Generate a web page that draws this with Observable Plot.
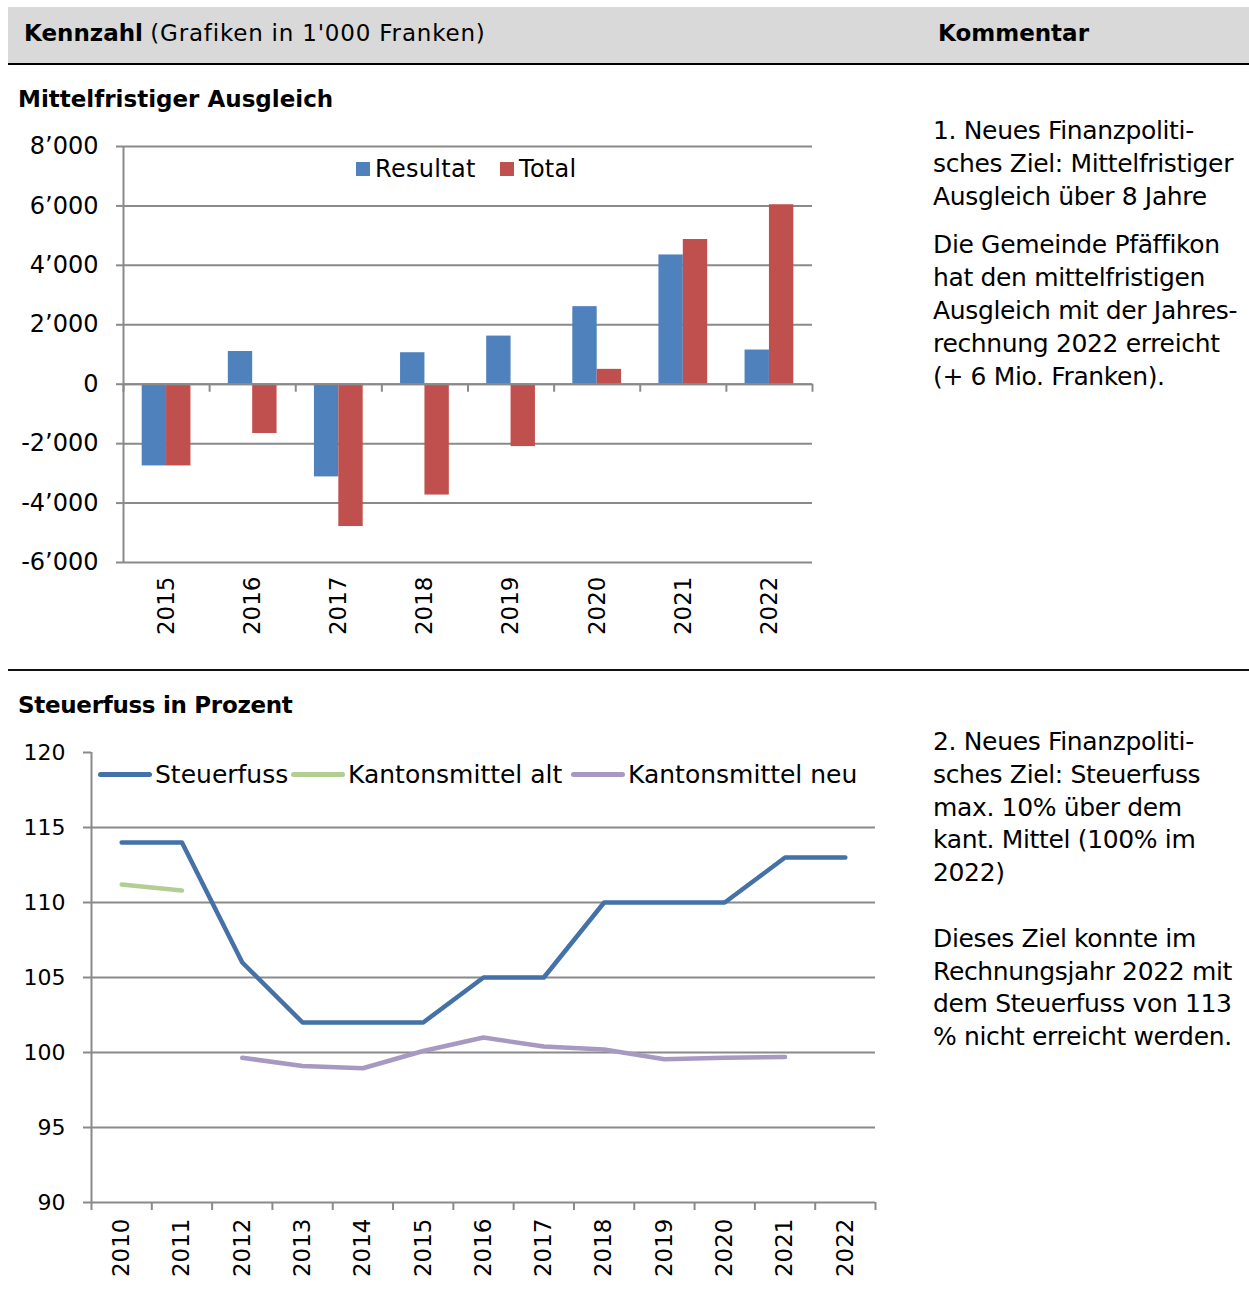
<!DOCTYPE html>
<html>
<head>
<meta charset="utf-8">
<script src="https://cdn.jsdelivr.net/npm/d3@7"></script>
<script src="https://cdn.jsdelivr.net/npm/@observablehq/plot@0.6"></script>
<style>
  html, body { margin: 0; padding: 0; background: #fff; }
  body { width: 1249px; height: 1304px; overflow: hidden; position: relative; font-family: "DejaVu Sans", sans-serif; color: #000; }
  .abs { position: absolute; white-space: nowrap; }
  .header { left: 8px; top: 7px; width: 1241px; height: 56px; background: #D9D9D9; border-bottom: 2px solid #000; }
  .htext { font-size: 23px; line-height: 52px; top: 7px; }
  .sep { left: 8px; width: 1241px; height: 0; border-top: 2px solid #111; }
  .title { font-size: 23px; font-weight: bold; line-height: 30px; left: 18px; }
  .comment { left: 933px; font-size: 25px; letter-spacing: -0.35px; }
  .comment p { margin: 0; }
  .leg { font-size: 24px; line-height: 30px; }
  .sq { width: 14px; height: 14px; }
  .sw { height: 5px; border-radius: 3px; }
  .leg2 { font-size: 25px; line-height: 30px; }
</style>
</head>
<body>
<script>
// ---------- Data ----------
const years1 = [2015, 2016, 2017, 2018, 2019, 2020, 2021, 2022];
const resultat = [-2750, 1100, -3120, 1060, 1620, 2610, 4350, 1150];
const total = [-2750, -1660, -4790, -3730, -2100, 500, 4870, 6040];
const yTicks1 = [-6000, -4000, -2000, 0, 2000, 4000, 6000, 8000];
const series1 = ["Resultat", "Total"];
const colors1 = ["#4F81BD", "#C0504D"];

const years2 = [2010, 2011, 2012, 2013, 2014, 2015, 2016, 2017, 2018, 2019, 2020, 2021, 2022];
const steuerfuss = [114, 114, 106, 102, 102, 102, 105, 105, 110, 110, 110, 113, 113];
const kantonAltYears = [2010, 2011];
const kantonAlt = [111.2, 110.8];
const kantonNeuYears = [2012, 2013, 2014, 2015, 2016, 2017, 2018, 2019, 2020, 2021];
const kantonNeu = [99.65, 99.1, 98.95, 100.1, 101.0, 100.4, 100.2, 99.55, 99.65, 99.7];
const yTicks2 = [90, 95, 100, 105, 110, 115, 120];
const series2 = ["Steuerfuss", "Kantonsmittel alt", "Kantonsmittel neu"];
const colors2 = ["#4371A8", "#B3CE93", "#A799C2"];

const gridColor = "#8A8A8A";
const fmt1 = d => d3.format(",")(d).replace(/,/g, "’").replace("−", "-");

// ---------- Page text ----------
function el(cls, style, html) {
  const d = document.createElement("div");
  d.className = "abs " + cls;
  Object.assign(d.style, style);
  d.innerHTML = html;
  document.body.appendChild(d);
  return d;
}
el("header", {}, "");
el("htext", {left: "24px"}, "<b>Kennzahl</b> <span style='letter-spacing:0.8px'>(Grafiken in 1'000 Franken)</span>");
el("htext", {left: "938px"}, "<b>Kommentar</b>");
el("title", {top: "84px"}, "Mittelfristiger Ausgleich");
el("sep", {top: "669px"}, "");
el("title", {top: "690px", letterSpacing: "-0.3px"}, "Steuerfuss in Prozent");

el("comment", {top: "114px", lineHeight: "33px"},
  "<p>1. Neues Finanzpoliti-<br>sches Ziel: Mittelfristiger<br>Ausgleich über 8 Jahre</p>" +
  "<p style='margin-top:15px'>Die Gemeinde Pfäffikon<br>hat den mittelfristigen<br>Ausgleich mit der Jahres-<br>rechnung 2022 erreicht<br>(+ 6 Mio. Franken).</p>");
el("comment", {top: "726px", lineHeight: "32.8px"},
  "<p>2. Neues Finanzpoliti-<br>sches Ziel: Steuerfuss<br>max. 10% über dem<br>kant. Mittel (100% im<br>2022)</p>" +
  "<p style='margin-top:32.8px'>Dieses Ziel konnte im<br>Rechnungsjahr 2022 mit<br>dem Steuerfuss von 113<br>% nicht erreicht werden.</p>");

// ---------- Chart 1: grouped bars ----------
const rows1 = [];
years1.forEach((y, i) => {
  rows1.push({year: y, series: "Resultat", value: resultat[i]});
  rows1.push({year: y, series: "Total", value: total[i]});
});
const xDom1 = [years1[0] - 0.5, years1[years1.length - 1] + 0.5];
const bounds1 = d3.range(xDom1[0], xDom1[1] + 0.01, 1);
const barW = 0.283; // fraction of a category occupied by one bar
const chart1 = Plot.plot({
  width: 830, height: 530,
  marginLeft: 123, marginRight: 18, marginTop: 26, marginBottom: 88,
  style: {fontFamily: "DejaVu Sans", fontSize: "24px", color: "#000", background: "transparent", overflow: "visible"},
  x: {type: "linear", domain: xDom1},
  y: {domain: [yTicks1[0], yTicks1[yTicks1.length - 1]]},
  color: {domain: series1, range: colors1},
  marks: [
    Plot.ruleY(yTicks1, {stroke: gridColor, strokeWidth: 2}),
    Plot.rect(rows1, {
      x1: d => d.series === "Resultat" ? d.year - barW : d.year,
      x2: d => d.series === "Resultat" ? d.year : d.year + barW,
      y1: 0, y2: "value", fill: "series"
    }),
    Plot.ruleY([0], {stroke: gridColor, strokeWidth: 2}),
    Plot.ruleX(bounds1, {y1: 0, y2: -270, stroke: gridColor, strokeWidth: 2}),
    Plot.ruleX([xDom1[0]], {stroke: gridColor, strokeWidth: 2}),
    Plot.axisY(yTicks1, {tickSize: 7, tickPadding: 18, tickFormat: fmt1, stroke: gridColor, strokeWidth: 2, label: null, fontSize: 24}),
    Plot.axisX(years1, {tickSize: 0, tickPadding: 14, tickRotate: -90, tickFormat: d => String(d), label: null, fontSize: 23})
  ]
});
chart1.style.position = "absolute";
chart1.style.left = "0px";
chart1.style.top = "120px";
document.body.appendChild(chart1);

// legend chart 1
el("sq", {left: "356px", top: "162px", background: colors1[0]}, "");
el("leg", {left: "375px", top: "154px", letterSpacing: "0.3px"}, series1[0]);
el("sq", {left: "500px", top: "162px", background: colors1[1]}, "");
el("leg", {left: "519px", top: "154px", letterSpacing: "0.3px"}, series1[1]);

// ---------- Chart 2: lines ----------
const rows2 = [];
years2.forEach((y, i) => rows2.push({year: y, series: series2[0], value: steuerfuss[i]}));
kantonAltYears.forEach((y, i) => rows2.push({year: y, series: series2[1], value: kantonAlt[i]}));
kantonNeuYears.forEach((y, i) => rows2.push({year: y, series: series2[2], value: kantonNeu[i]}));
const xDom2 = [years2[0] - 0.5, years2[years2.length - 1] + 0.5];
const bounds2 = d3.range(xDom2[0], xDom2[1] + 0.01, 1);
const chart2 = Plot.plot({
  width: 895, height: 574,
  marginLeft: 91, marginRight: 20, marginTop: 22, marginBottom: 102,
  style: {fontFamily: "DejaVu Sans", fontSize: "22px", color: "#000", background: "transparent", overflow: "visible"},
  x: {type: "linear", domain: xDom2},
  y: {domain: [yTicks2[0], yTicks2[yTicks2.length - 1]]},
  color: {domain: series2, range: colors2},
  marks: [
    Plot.ruleY(yTicks2.slice(0, -1), {stroke: gridColor, strokeWidth: 2}),
    Plot.ruleX([xDom2[0]], {stroke: gridColor, strokeWidth: 2}),
    Plot.axisX(bounds2, {tickSize: 8, tickFormat: () => "", stroke: gridColor, strokeWidth: 2, label: null}),
    Plot.axisY(yTicks2, {tickSize: 8, tickPadding: 18, stroke: gridColor, strokeWidth: 2, label: null, fontSize: 22}),
    Plot.axisX(years2, {tickSize: 0, tickPadding: 16, tickRotate: -90, tickFormat: d => String(d), label: null, fontSize: 23}),
    Plot.line(rows2, {x: "year", y: "value", z: "series", stroke: "series", strokeWidth: 4.5, strokeLinecap: "round", strokeLinejoin: "round"})
  ]
});
chart2.style.position = "absolute";
chart2.style.left = "0px";
chart2.style.top = "730px";
document.body.appendChild(chart2);

// legend chart 2
const leg2 = [
  {sw: 98, swW: 54, tx: 155},
  {sw: 291, swW: 54, tx: 348},
  {sw: 571, swW: 54, tx: 628}
];
leg2.forEach((p, i) => {
  el("sw", {left: p.sw + "px", top: "772px", width: p.swW + "px", background: colors2[i]}, "");
  el("leg2", {left: p.tx + "px", top: "760px"}, series2[i]);
});
</script>
</body>
</html>
